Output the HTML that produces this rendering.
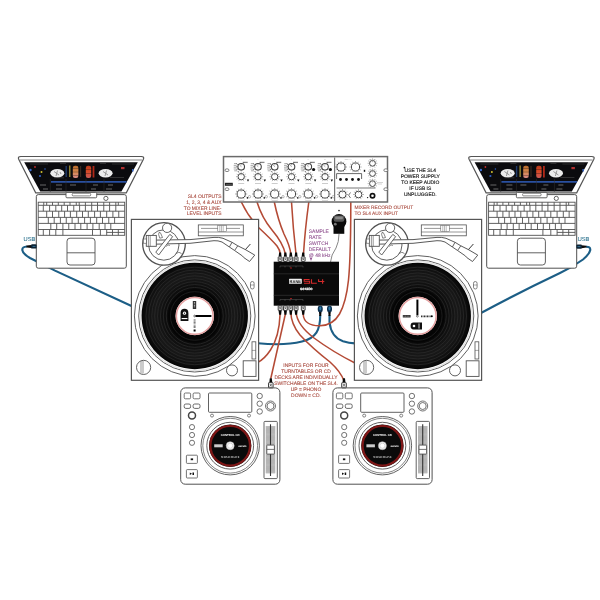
<!DOCTYPE html><html><head><meta charset="utf-8"><style>html,body{margin:0;padding:0;background:#fff;}svg{display:block;will-change:transform;text-rendering:geometricPrecision;}</style></head><body>
<svg width="600" height="600" viewBox="0 0 600 600">
<rect width="600" height="600" fill="#fff"/>
<defs>
<linearGradient id="wf1" x1="0" y1="0" x2="0" y2="1"><stop offset="0" stop-color="#b86a2a"/><stop offset="0.5" stop-color="#d88a50"/><stop offset="1" stop-color="#d88a88"/></linearGradient>
<linearGradient id="wf2" x1="0" y1="0" x2="0" y2="1"><stop offset="0" stop-color="#b83a1a"/><stop offset="0.5" stop-color="#d84a28"/><stop offset="1" stop-color="#c85a58"/></linearGradient>
<radialGradient id="rec" cx="0.5" cy="0.5" r="0.5"><stop offset="0.5" stop-color="#0a0a0a"/><stop offset="0.75" stop-color="#191919"/><stop offset="0.9" stop-color="#101010"/><stop offset="1" stop-color="#050505"/></radialGradient>
<g id="lap"><path d="M20.8,156.5 L141.3,156.5 Q144.6,156.5 143.4,159.3 L126.3,192.8 L35.7,192.8 L18.7,159.3 Q17.5,156.5 20.8,156.5 Z" fill="#fff" stroke="#555" stroke-width="1.2"/>
<path d="M19.6,160 L142.2,160" fill="none" stroke="#777" stroke-width="0.9"/>
<path d="M24.2,162.3 L137.8,162.3 L121.4,191.4 L40.2,191.4 Z" fill="#0b0b0e"/>
<ellipse cx="57.3" cy="173.2" rx="7" ry="4.2" fill="#ececec"/>
<ellipse cx="105.6" cy="173.2" rx="7" ry="4.2" fill="#ececec"/>
<path d="M54,171.5 L59,175 M57.5,170.5 L56,176 M60,172 L61,174" stroke="#777" stroke-width="0.7"/>
<path d="M103,171.5 L108,175 M106.5,170.5 L105,176" stroke="#777" stroke-width="0.7"/>
<rect x="65.5" y="166" width="1.4" height="11" fill="#1e3a6a"/>
<rect x="69" y="165.5" width="1.5" height="11.5" fill="#8a8030"/>
<rect x="72.8" y="165.8" width="5.6" height="12.2" rx="2.2" fill="url(#wf1)"/>
<rect x="80" y="166" width="1.2" height="11" fill="#3a2a20"/>
<rect x="85.8" y="165.8" width="5.4" height="12.2" rx="2.2" fill="url(#wf2)"/>
<rect x="92.6" y="166" width="1.8" height="11.5" fill="#b02818"/>
<path d="M72,168.5 L79,168.5 M72,172 L79,172 M72,175.5 L79,175.5 M85,169.5 L92,169.5 M85,173.5 L92,173.5" stroke="#0b0b0e" stroke-width="0.5" opacity="0.6"/>
<path d="M51,181.8 L126.5,181.8" stroke="#2a50a0" stroke-width="1.8"/>
<circle cx="30.5" cy="170" r="1.2" fill="#3a6ad0"/><circle cx="41.5" cy="172" r="1" fill="#d0c030"/><circle cx="35" cy="167" r="0.9" fill="#c03030"/><circle cx="40" cy="176" r="1.1" fill="#3060c0"/><circle cx="45" cy="169" r="0.8" fill="#3060c0"/>
<rect x="121" y="167" width="3.5" height="2.2" fill="#b03030"/><rect x="132" y="169" width="1.5" height="2.5" fill="#3060c0"/>
<path d="M30,164 L48,164 M60,163.5 L66,163.5 M100,163.5 L106,163.5 M112,164 L134,164" stroke="#444" stroke-width="0.6"/>
<path d="M50.3,179 L50.3,192 M66,179 L66,192 M86,179 L86,192 M104,179 L104,192" stroke="#333" stroke-width="0.5"/>
<path d="M40,185 L46,185 M56,185 L62,185 M70,185 L76,185 M93,185 L98,185 M108,185 L113,185 M43,189 L48,189 M56,189 L62,189 M91,189 L96,189 M106,189 L112,189" stroke="#aaa" stroke-width="0.6"/>
<path d="M110,177.5 L124,177.5 M54,177.8 L64,177.8" stroke="#555" stroke-width="0.5"/>
<rect x="36.3" y="194.6" width="90" height="73.6" rx="2" fill="#fff" stroke="#505050" stroke-width="1"/>
<rect x="66" y="192.4" width="30.7" height="5.4" rx="1" fill="#fff" stroke="#505050" stroke-width="0.9"/>
<rect x="72.2" y="193.3" width="18.5" height="2.6" rx="1" fill="#fff" stroke="#505050" stroke-width="0.7"/>
<circle cx="105.9" cy="198.4" r="2.1" fill="#fff" stroke="#505050" stroke-width="0.9"/>
<rect x="38.2" y="202.2" width="86.5" height="33.1" fill="#fff" stroke="#505050" stroke-width="0.9"/>
<path d="M38.2,205.3 L124.7,205.3 M38.2,211.2 L124.7,211.2 M38.2,217.4 L124.7,217.4 M38.2,223.4 L124.7,223.4 M38.2,229.5 L124.7,229.5 M43.75,202.2 L43.75,205.3 M46.7,202.2 L46.7,205.3 M52.5,202.2 L52.5,205.3 M58.3,202.2 L58.3,205.3 M64.2,202.2 L64.2,205.3 M70,202.2 L70,205.3 M76.25,202.2 L76.25,205.3 M79.2,202.2 L79.2,205.3 M85.4,202.2 L85.4,205.3 M91.7,202.2 L91.7,205.3 M97.5,202.2 L97.5,205.3 M103.75,202.2 L103.75,205.3 M109.6,202.2 L109.6,205.3 M115.8,202.2 L115.8,205.3 M118.3,202.2 L118.3,205.3 M43.3,205.3 L43.3,211.2 M49.6,205.3 L49.6,211.2 M55.8,205.3 L55.8,211.2 M61.7,205.3 L61.7,211.2 M67.5,205.3 L67.5,211.2 M73.75,205.3 L73.75,211.2 M79.6,205.3 L79.6,211.2 M85.4,205.3 L85.4,211.2 M91.7,205.3 L91.7,211.2 M97.5,205.3 L97.5,211.2 M103.75,205.3 L103.75,211.2 M109.6,205.3 L109.6,211.2 M115.8,205.3 L115.8,211.2 M46.7,211.2 L46.7,217.4 M52.5,211.2 L52.5,217.4 M58.75,211.2 L58.75,217.4 M64.6,211.2 L64.6,217.4 M70.4,211.2 L70.4,217.4 M76.7,211.2 L76.7,217.4 M82.5,211.2 L82.5,217.4 M88.3,211.2 L88.3,217.4 M94.6,211.2 L94.6,217.4 M100.4,211.2 L100.4,217.4 M106.7,211.2 L106.7,217.4 M112.9,211.2 L112.9,217.4 M118.75,211.2 L118.75,217.4 M48.3,217.4 L48.3,223.4 M54.2,217.4 L54.2,223.4 M60.4,217.4 L60.4,223.4 M66.25,217.4 L66.25,223.4 M72.1,217.4 L72.1,223.4 M78.3,217.4 L78.3,223.4 M84.6,217.4 L84.6,223.4 M90.4,217.4 L90.4,223.4 M96.7,217.4 L96.7,223.4 M102.5,217.4 L102.5,223.4 M108.75,217.4 L108.75,223.4 M114.6,217.4 L114.6,223.4 M50.8,223.4 L50.8,229.5 M56.7,223.4 L56.7,229.5 M62.9,223.4 L62.9,229.5 M68.75,223.4 L68.75,229.5 M75,223.4 L75,229.5 M80.8,223.4 L80.8,229.5 M87.1,223.4 L87.1,229.5 M92.9,223.4 L92.9,229.5 M99.2,223.4 L99.2,229.5 M105,223.4 L105,229.5 M110.8,223.4 L110.8,229.5 M43.3,229.5 L43.3,235.3 M49.6,229.5 L49.6,235.3 M55.8,229.5 L55.8,235.3 M62.9,229.5 L62.9,235.3 M92.5,229.5 L92.5,235.3 M100.4,229.5 L100.4,235.3 M106.7,229.5 L106.7,235.3 M112.5,229.5 L112.5,235.3 M118.3,229.5 L118.3,235.3 M106.7,232.4 L124.7,232.4" stroke="#505050" stroke-width="0.9" fill="none"/>
<rect x="67" y="238.2" width="28" height="26.8" rx="3" fill="#fff" stroke="#505050" stroke-width="0.9"/>
<path d="M67,252.8 L95,252.8" stroke="#505050" stroke-width="0.9"/></g>
<g id="tt"><rect x="131.4" y="219.4" width="127.2" height="160.9" fill="#fff" stroke="#555" stroke-width="1.2"/>
<circle cx="194.75" cy="315.95" r="60.35" fill="#fff" stroke="#606060" stroke-width="1.0"/>
<circle cx="194.75" cy="315.95" r="56.05" fill="#fff" stroke="#606060" stroke-width="1.0"/>
<circle cx="194.75" cy="315.95" r="54.4" fill="none" stroke="#e4e4e4" stroke-width="1.4"/>
<circle cx="194.75" cy="315.95" r="53.2" fill="url(#rec)"/>
<circle cx="194.75" cy="315.95" r="28.50" fill="none" stroke="#292929" stroke-width="0.8"/>
<circle cx="194.75" cy="315.95" r="31.40" fill="none" stroke="#292929" stroke-width="0.8"/>
<circle cx="194.75" cy="315.95" r="34.30" fill="none" stroke="#292929" stroke-width="0.8"/>
<circle cx="194.75" cy="315.95" r="37.20" fill="none" stroke="#292929" stroke-width="0.8"/>
<circle cx="194.75" cy="315.95" r="40.10" fill="none" stroke="#292929" stroke-width="0.8"/>
<circle cx="194.75" cy="315.95" r="43.00" fill="none" stroke="#292929" stroke-width="0.8"/>
<circle cx="194.75" cy="315.95" r="45.90" fill="none" stroke="#292929" stroke-width="0.8"/>
<circle cx="194.75" cy="315.95" r="48.80" fill="none" stroke="#292929" stroke-width="0.8"/>
<circle cx="194.75" cy="315.95" r="26.5" fill="#050505"/>
<circle cx="194.75" cy="315.95" r="24.3" fill="none" stroke="#222" stroke-width="0.8"/>
<circle cx="194.75" cy="315.95" r="19.2" fill="#fff"/>
<circle cx="194.75" cy="315.95" r="18.4" fill="none" stroke="#e4a0a0" stroke-width="1.5"/>
<circle cx="164" cy="243.9" r="21.3" fill="#fff" stroke="#505050" stroke-width="1.3"/>
<circle cx="163.8" cy="245" r="15.2" fill="#fff" stroke="#505050" stroke-width="0.9"/>
<circle cx="167.1" cy="227.9" r="4.6" fill="#fff" stroke="#505050" stroke-width="0.9"/>
<path d="M176,253.5 Q179,251 181.5,253.5" fill="none" stroke="#505050" stroke-width="0.7"/>
<path d="M159,232.5 Q160.5,232 161,234 L162.5,237.5 L159.8,238.2 L158.6,234.5 Z" fill="#fff" stroke="#505050" stroke-width="0.7"/>
<path d="M150,240.2 L190,239.6 L214,237.4 Q219,237 223,238.3 L232,242.3 L237.8,245.8 L245.4,249.6 L254.75,255.1 L249.5,261.5 L243.7,257.5 L242.5,256 L234.6,250.5 L229.4,247 L222,242 Q218,240.4 214,240.7 L190,243.3 L150,244.3 Z" fill="#fff" stroke="#505050" stroke-width="0.95" stroke-linejoin="round"/>
<path d="M232,242.3 L229.4,247 M237.8,245.8 L234.6,250.5" stroke="#505050" stroke-width="0.9"/>
<path d="M245.4,249.6 L250.4,244" stroke="#222" stroke-width="0.9"/>
<rect x="146.3" y="235.4" width="10" height="10.9" fill="#fff" stroke="#505050" stroke-width="0.9"/>
<path d="M148.4,235.4 L148.4,246.3 M150.2,235.4 L150.2,246.3" stroke="#505050" stroke-width="0.6"/>
<rect x="143.5" y="239" width="2.8" height="4.2" fill="#fff" stroke="#505050" stroke-width="0.6"/>
<path d="M155.8,252.1 L169.8,234.4 L172.6,236.6 L158.7,255 Z" fill="#fff" stroke="#505050" stroke-width="0.9"/>
<path d="M166,246.5 Q168,244 170,245.5" fill="none" stroke="#505050" stroke-width="0.6"/>
<rect x="198.3" y="224.9" width="45" height="10.9" fill="#fff" stroke="#505050" stroke-width="0.8"/>
<path d="M198.3,232 L243.3,232 M201,228.4 L240,228.4" stroke="#505050" stroke-width="0.6"/>
<rect x="217.8" y="225.5" width="8.5" height="6.2" fill="#fff" stroke="#505050" stroke-width="0.5"/>
<path d="M219.8,225.5 L219.8,231.7 M221.5,225.5 L221.5,231.7 M223.2,225.5 L223.2,231.7" stroke="#777" stroke-width="0.5"/>
<rect x="250.5" y="281.5" width="3.6" height="7.5" rx="1.8" fill="#fff" stroke="#505050" stroke-width="0.7"/>
<path d="M250.5,285 L254.1,285" stroke="#505050" stroke-width="0.5"/>
<rect x="252" y="341.8" width="3.8" height="17.2" fill="#fff" stroke="#505050" stroke-width="0.8"/>
<path d="M252,350.4 L255.8,350.4" stroke="#505050" stroke-width="0.5"/>
<rect x="243.2" y="360.8" width="12.8" height="15.6" fill="#fff" stroke="#505050" stroke-width="0.9"/>
<circle cx="232" cy="370.4" r="5.5" fill="#fff" stroke="#505050" stroke-width="0.9"/>
<circle cx="143.6" cy="367.4" r="7.1" fill="#fff" stroke="#505050" stroke-width="0.9"/>
<path d="M141,361 L141,373 M143,360.5 L143,373.5" stroke="#505050" stroke-width="0.6"/></g>
<g id="cd"><rect x="180.7" y="387.9" width="99.2" height="96.3" rx="4.5" fill="#fff" stroke="#505050" stroke-width="1"/>
<rect x="184.2" y="393" width="6.4" height="5.8" rx="1.2" fill="#fff" stroke="#505050" stroke-width="0.8"/>
<rect x="193.1" y="393" width="6.9" height="5.8" rx="1.2" fill="#fff" stroke="#505050" stroke-width="0.8"/>
<rect x="184.2" y="404" width="6.4" height="4.4" rx="1.6" fill="#fff" stroke="#505050" stroke-width="0.85"/>
<rect x="193.1" y="404" width="6.9" height="4.4" rx="1.6" fill="#fff" stroke="#505050" stroke-width="0.85"/>
<circle cx="192" cy="415.6" r="3.5" fill="#fff" stroke="#444" stroke-width="1.5"/>
<circle cx="192" cy="427.1" r="2.6" fill="#fff" stroke="#505050" stroke-width="0.8"/>
<circle cx="192" cy="435.0" r="2.6" fill="#fff" stroke="#505050" stroke-width="0.8"/>
<circle cx="192" cy="442.8" r="2.6" fill="#fff" stroke="#505050" stroke-width="0.8"/>
<rect x="186.4" y="455.2" width="11" height="8.2" rx="0.8" fill="#fff" stroke="#505050" stroke-width="0.8"/>
<rect x="190.7" y="458.4" width="2.4" height="1.8" fill="#111"/>
<rect x="186.4" y="469.6" width="11" height="8.4" rx="0.8" fill="#fff" stroke="#505050" stroke-width="0.8"/>
<path d="M189.8,472.6 L192,473.8 L189.8,475 Z M192.5,472.6 L194,472.6 L194,475 L192.5,475 Z" fill="#111"/>
<rect x="208.5" y="393" width="43.3" height="19.3" rx="1" fill="#fff" stroke="#505050" stroke-width="0.9"/>
<circle cx="212" cy="415.6" r="1.5" fill="#fff" stroke="#505050" stroke-width="0.7"/>
<circle cx="249" cy="415.6" r="1.5" fill="#fff" stroke="#505050" stroke-width="0.7"/>
<circle cx="259.7" cy="396" r="2.7" fill="#fff" stroke="#505050" stroke-width="0.8"/>
<circle cx="259.7" cy="403.7" r="2.7" fill="#fff" stroke="#505050" stroke-width="0.8"/>
<circle cx="259.7" cy="411.5" r="2.7" fill="#fff" stroke="#505050" stroke-width="0.8"/>
<circle cx="270.5" cy="406" r="5" fill="#fff" stroke="#505050" stroke-width="0.8"/>
<circle cx="270.5" cy="406" r="3.5" fill="#fff" stroke="#505050" stroke-width="0.8"/>
<circle cx="230.2" cy="445.7" r="29.2" fill="#fff" stroke="#505050" stroke-width="0.9"/>
<circle cx="230.2" cy="445.7" r="27.4" fill="#fff" stroke="#505050" stroke-width="0.7"/>
<circle cx="230.2" cy="445.7" r="23.4" fill="#fff" stroke="#505050" stroke-width="0.9"/>
<circle cx="230.2" cy="445.7" r="21.2" fill="#0a0a0a"/>
<circle cx="230.2" cy="445.7" r="19.85" fill="none" stroke="#7f1717" stroke-width="2.3"/>
<circle cx="230.2" cy="445.7" r="4" fill="#fff" stroke="#aaa" stroke-width="0.6"/>
<circle cx="230.2" cy="445.7" r="2.6" fill="#fff" stroke="#999" stroke-width="0.4"/>
<text x="230.2" y="436.09999999999997" font-family="Liberation Sans" font-weight="bold" font-size="2.8" fill="#fff" text-anchor="middle" textLength="19" lengthAdjust="spacingAndGlyphs">CONTROL CD</text>
<rect x="214.2" y="444.3" width="8.5" height="3" fill="#ccc"/>
<text x="242.39999999999998" y="447.0" font-family="Liberation Sans" font-weight="bold" font-size="2.8" fill="#fff" text-anchor="middle">serato</text>
<text x="230.2" y="457.9" font-family="Liberation Serif" font-weight="bold" font-size="3.2" fill="#ddd" text-anchor="middle" textLength="18.5" lengthAdjust="spacingAndGlyphs">SCRATCH LIVE</text>
<rect x="264" y="421.4" width="13.3" height="57.2" rx="1" fill="#fff" stroke="#505050" stroke-width="0.9"/>
<rect x="265.8" y="426" width="9.4" height="47.3" fill="#a0a0a0"/>
<path d="M265.8,426.50 L275.2,426.50 M265.8,427.65 L275.2,427.65 M265.8,428.80 L275.2,428.80 M265.8,429.95 L275.2,429.95 M265.8,431.10 L275.2,431.10 M265.8,432.25 L275.2,432.25 M265.8,433.40 L275.2,433.40 M265.8,434.55 L275.2,434.55 M265.8,435.70 L275.2,435.70 M265.8,436.85 L275.2,436.85 M265.8,438.00 L275.2,438.00 M265.8,439.15 L275.2,439.15 M265.8,440.30 L275.2,440.30 M265.8,441.45 L275.2,441.45 M265.8,442.60 L275.2,442.60 M265.8,443.75 L275.2,443.75 M265.8,444.90 L275.2,444.90 M265.8,446.05 L275.2,446.05 M265.8,447.20 L275.2,447.20 M265.8,448.35 L275.2,448.35 M265.8,449.50 L275.2,449.50 M265.8,450.65 L275.2,450.65 M265.8,451.80 L275.2,451.80 M265.8,452.95 L275.2,452.95 M265.8,454.10 L275.2,454.10 M265.8,455.25 L275.2,455.25 M265.8,456.40 L275.2,456.40 M265.8,457.55 L275.2,457.55 M265.8,458.70 L275.2,458.70 M265.8,459.85 L275.2,459.85 M265.8,461.00 L275.2,461.00 M265.8,462.15 L275.2,462.15 M265.8,463.30 L275.2,463.30 M265.8,464.45 L275.2,464.45 M265.8,465.60 L275.2,465.60 M265.8,466.75 L275.2,466.75 M265.8,467.90 L275.2,467.90 M265.8,469.05 L275.2,469.05 M265.8,470.20 L275.2,470.20 M265.8,471.35 L275.2,471.35 M265.8,472.50 L275.2,472.50" stroke="#d4d4d4" stroke-width="0.5"/>
<path d="M270.5,424.3 L270.5,476" stroke="#333" stroke-width="1.1"/>
<rect x="266.8" y="445.1" width="7.6" height="9" rx="0.5" fill="#fff" stroke="#505050" stroke-width="0.9"/>
<path d="M266.8,449.4 L274.4,449.4" stroke="#505050" stroke-width="0.8"/></g>
</defs>
<path d="M27,246.5 Q22,246.8 22.3,250 Q22.8,254 30,258 Q40,263 55,270.6 L131.5,306" fill="none" stroke="#1c5e86" stroke-width="2.1"/>
<path d="M586,246.7 Q590.5,246.5 590.3,250 Q589.5,254 583,259.5 Q572,267.5 560,273 Q520,292 481,313" fill="none" stroke="#1c5e86" stroke-width="2.1"/>
<path d="M320.25,315 C320.3,330 316,338 302,341.5 C290,344.5 275,345 258,343.2" fill="none" stroke="#1c5e86" stroke-width="2.1"/>
<path d="M329.5,315 L329.5,322 Q331,337 343,341.2 Q349,343 355,343.4" fill="none" stroke="#1c5e86" stroke-width="2.1"/>
<path d="M241.3,202 Q248,216 258,227 Q272,240 277,246 Q280,250 280.3,254" fill="none" stroke="#b44a35" stroke-width="1.55"/>
<path d="M257,202 Q262,218 272,230 Q283,243 285.4,254" fill="none" stroke="#b44a35" stroke-width="1.55"/>
<path d="M274.3,202 Q278,220 284,234 Q290,246 290.8,254" fill="none" stroke="#b44a35" stroke-width="1.55"/>
<path d="M291.5,202 Q293,228 296,254" fill="none" stroke="#b44a35" stroke-width="1.55"/>
<path d="M308.8,202 Q305,230 303.5,254" fill="none" stroke="#b44a35" stroke-width="1.55"/>
<path d="M280.1,314 C279.5,330 276.5,341 270.5,350 C266.5,356 262.5,360 258,362.2" fill="none" stroke="#b44a35" stroke-width="1.55"/>
<path d="M285.4,314 L270.8,378.5" fill="none" stroke="#b44a35" stroke-width="1.55"/>
<path d="M290.8,312 Q291,324 300,335 Q312,348 330,362 Q341,372 344,381" fill="none" stroke="#b44a35" stroke-width="1.55"/>
<path d="M296,312 Q297,325 314,338 Q333,352 355,363" fill="none" stroke="#b44a35" stroke-width="1.55"/>
<path d="M303.2,314 C303.5,322 310,326 320,325.8 C330,325.5 336,320 339.5,314 C344,306 346.8,296 348.5,280 C350,265 350.8,240 350.8,202" fill="none" stroke="#b44a35" stroke-width="1.55"/>
<path d="M339,234 Q339,242 336,248 Q331,255 330.5,262" fill="none" stroke="#888" stroke-width="1"/>
<use href="#lap"/>
<use href="#lap" transform="translate(450.4,0)"/>
<use href="#tt"/>
<use href="#tt" transform="translate(223,0)"/>
<path d="M195.4,316.0 L211.4,316.0" stroke="#000" stroke-width="2"/>
<circle cx="194.6" cy="316.0" r="0.9" fill="#fff" stroke="#000" stroke-width="0.5"/>
<path d="M180.6,321 L180.6,313 Q180.6,308.8 184.5,308.8 Q188.4,308.8 188.4,313 L188.4,321 Z" fill="#111"/>
<circle cx="184.5" cy="313.2" r="1.6" fill="#fff"/>
<circle cx="184.5" cy="313.2" r="0.6" fill="#111"/>
<rect x="181.6" y="318" width="5.8" height="1.1" fill="#fff"/>
<rect x="192.8" y="301" width="3.4" height="8" fill="#333"/>
<path d="M194.5,302 L194.5,308" stroke="#ccc" stroke-width="1.2" stroke-dasharray="0.8,0.7"/>
<path d="M194.6,319.5 L194.6,328.5" stroke="#555" stroke-width="2" stroke-dasharray="0.7,0.6"/>
<rect x="193.6" y="329.5" width="2" height="2" fill="#000"/>
<path d="M417.4,315.2 L417.4,299.59999999999997" stroke="#000" stroke-width="2"/>
<circle cx="417.4" cy="316.2" r="0.9" fill="#fff" stroke="#000" stroke-width="0.5"/>
<path d="M413.5,322.6 L422,322.6 L422,329.4 L413.5,329.4 Q410.6,329.4 410.6,326 Q410.6,322.6 413.5,322.6 Z" fill="#111"/>
<circle cx="414" cy="326" r="1.3" fill="#fff"/>
<rect x="418.6" y="323.4" width="0.8" height="5.2" fill="#fff"/>
<rect x="402.8" y="315" width="7.8" height="2.5" fill="#333"/>
<path d="M403.5,316.2 L410,316.2" stroke="#fff" stroke-width="0.4" stroke-dasharray="1,0.6"/>
<path d="M421,316.3 L430.6,316.3" stroke="#333" stroke-width="1.7" stroke-dasharray="1,0.5"/>
<circle cx="431.8" cy="316.3" r="1" fill="#000"/>
<use href="#cd"/>
<use href="#cd" transform="translate(152.2,0)"/>
<rect x="223.5" y="156.6" width="164" height="45.4" fill="#fff" stroke="#6a6a6a" stroke-width="1.5"/>
<path d="M234.0,163.6 L237.0,163.6 M233.7,165.4 L236.6,165.4 M233.7,167.2 L236.39999999999998,167.2 M233.7,169 L236.6,169 M234.2,170.8 L237.2,170.8" stroke="#909090" stroke-width="0.75"/>
<path d="M242.7,162.4 L247.7,162.4" stroke="#888" stroke-width="1.3"/>
<circle cx="241.2" cy="166.8" r="3.3" fill="#fff" stroke="#444" stroke-width="1.1"/>
<path d="M241.2,164.0 L241.2,165.3" stroke="#666" stroke-width="0.5"/>
<path d="M236.6,163.8 L237.6,164.5 M236.29999999999998,166.8 L237.39999999999998,166.8 M236.6,169.6 L237.6,169 M238.0,171.8 L238.7,170.9 M243.79999999999998,162.6 L243.29999999999998,163.4" stroke="#222" stroke-width="0.8"/>
<path d="M241.5,166.8 L239.7,165.2" stroke="#555" stroke-width="0.5"/>
<text x="241.2" y="160.3" font-family="Liberation Sans" font-size="1.6" fill="#888" text-anchor="middle">1</text>
<path d="M239.15,180.25 L238.65,181.12 M237.65,178.75 L236.78,179.25 M237.10,176.70 L236.10,176.70 M237.65,174.65 L236.78,174.15 M239.15,173.15 L238.65,172.28 M241.20,172.60 L241.20,171.60 M243.25,173.15 L243.75,172.28 M244.75,174.65 L245.62,174.15 M245.30,176.70 L246.30,176.70 M244.75,178.75 L245.62,179.25 M243.25,180.25 L243.75,181.12" stroke="#707070" stroke-width="0.65"/>
<circle cx="241.2" cy="176.7" r="3.2" fill="#fff" stroke="#444" stroke-width="1.0"/>
<path d="M241.2,174.0 L241.2,175.3" stroke="#666" stroke-width="0.5"/>
<path d="M246.79999999999998,179.4 L249.2,179.4 L248.0,181.8 Z" fill="#111"/>
<path d="M238.2,183.5 L244.2,183.5" stroke="#aaa" stroke-width="0.6"/>
<path d="M238.70,198.33 L238.20,199.20 M236.87,196.50 L236.00,197.00 M236.20,194.00 L235.20,194.00 M236.87,191.50 L236.00,191.00 M238.70,189.67 L238.20,188.80 M241.20,189.00 L241.20,188.00 M243.70,189.67 L244.20,188.80 M245.53,191.50 L246.40,191.00 M246.20,194.00 L247.20,194.00 M245.53,196.50 L246.40,197.00 M243.70,198.33 L244.20,199.20" stroke="#707070" stroke-width="0.65"/>
<circle cx="241.2" cy="194.0" r="4.1" fill="#fff" stroke="#444" stroke-width="1.0"/>
<path d="M241.2,190.4 L241.2,191.70000000000002" stroke="#666" stroke-width="0.5"/>
<circle cx="247.5" cy="197.9" r="0.8" fill="#111"/>
<circle cx="249.5" cy="196.7" r="1.2" fill="#fff" stroke="#888" stroke-width="0.6"/>
<path d="M238.2,200.6 L244.2,200.6" stroke="#bbb" stroke-width="0.6"/>
<path d="M250.8,163.6 L253.8,163.6 M250.5,165.4 L253.4,165.4 M250.5,167.2 L253.2,167.2 M250.5,169 L253.4,169 M251.0,170.8 L254.0,170.8" stroke="#909090" stroke-width="0.75"/>
<path d="M259.5,162.4 L264.5,162.4" stroke="#888" stroke-width="1.3"/>
<circle cx="258.0" cy="166.8" r="3.3" fill="#fff" stroke="#444" stroke-width="1.1"/>
<path d="M258.0,164.0 L258.0,165.3" stroke="#666" stroke-width="0.5"/>
<path d="M253.4,163.8 L254.4,164.5 M253.1,166.8 L254.2,166.8 M253.4,169.6 L254.4,169 M254.8,171.8 L255.5,170.9 M260.6,162.6 L260.1,163.4" stroke="#222" stroke-width="0.8"/>
<path d="M258.3,166.8 L256.5,165.2" stroke="#555" stroke-width="0.5"/>
<text x="258.0" y="160.3" font-family="Liberation Sans" font-size="1.6" fill="#888" text-anchor="middle">2</text>
<path d="M255.95,180.25 L255.45,181.12 M254.45,178.75 L253.58,179.25 M253.90,176.70 L252.90,176.70 M254.45,174.65 L253.58,174.15 M255.95,173.15 L255.45,172.28 M258.00,172.60 L258.00,171.60 M260.05,173.15 L260.55,172.28 M261.55,174.65 L262.42,174.15 M262.10,176.70 L263.10,176.70 M261.55,178.75 L262.42,179.25 M260.05,180.25 L260.55,181.12" stroke="#707070" stroke-width="0.65"/>
<circle cx="258.0" cy="176.7" r="3.2" fill="#fff" stroke="#444" stroke-width="1.0"/>
<path d="M258.0,174.0 L258.0,175.3" stroke="#666" stroke-width="0.5"/>
<path d="M263.6,179.4 L266.0,179.4 L264.8,181.8 Z" fill="#111"/>
<path d="M255.0,183.5 L261.0,183.5" stroke="#aaa" stroke-width="0.6"/>
<path d="M255.50,198.33 L255.00,199.20 M253.67,196.50 L252.80,197.00 M253.00,194.00 L252.00,194.00 M253.67,191.50 L252.80,191.00 M255.50,189.67 L255.00,188.80 M258.00,189.00 L258.00,188.00 M260.50,189.67 L261.00,188.80 M262.33,191.50 L263.20,191.00 M263.00,194.00 L264.00,194.00 M262.33,196.50 L263.20,197.00 M260.50,198.33 L261.00,199.20" stroke="#707070" stroke-width="0.65"/>
<circle cx="258.0" cy="194.0" r="4.1" fill="#fff" stroke="#444" stroke-width="1.0"/>
<path d="M258.0,190.4 L258.0,191.70000000000002" stroke="#666" stroke-width="0.5"/>
<circle cx="264.3" cy="197.9" r="0.8" fill="#111"/>
<circle cx="266.3" cy="196.7" r="1.2" fill="#fff" stroke="#888" stroke-width="0.6"/>
<path d="M255.0,200.6 L261.0,200.6" stroke="#bbb" stroke-width="0.6"/>
<path d="M267.5,163.6 L270.5,163.6 M267.2,165.4 L270.09999999999997,165.4 M267.2,167.2 L269.9,167.2 M267.2,169 L270.09999999999997,169 M267.7,170.8 L270.7,170.8" stroke="#909090" stroke-width="0.75"/>
<path d="M276.2,162.4 L281.2,162.4" stroke="#888" stroke-width="1.3"/>
<circle cx="274.7" cy="166.8" r="3.3" fill="#fff" stroke="#444" stroke-width="1.1"/>
<path d="M274.7,164.0 L274.7,165.3" stroke="#666" stroke-width="0.5"/>
<path d="M270.09999999999997,163.8 L271.09999999999997,164.5 M269.8,166.8 L270.9,166.8 M270.09999999999997,169.6 L271.09999999999997,169 M271.5,171.8 L272.2,170.9 M277.3,162.6 L276.8,163.4" stroke="#222" stroke-width="0.8"/>
<path d="M275.0,166.8 L273.2,165.2" stroke="#555" stroke-width="0.5"/>
<text x="274.7" y="160.3" font-family="Liberation Sans" font-size="1.6" fill="#888" text-anchor="middle">3</text>
<path d="M272.65,180.25 L272.15,181.12 M271.15,178.75 L270.28,179.25 M270.60,176.70 L269.60,176.70 M271.15,174.65 L270.28,174.15 M272.65,173.15 L272.15,172.28 M274.70,172.60 L274.70,171.60 M276.75,173.15 L277.25,172.28 M278.25,174.65 L279.12,174.15 M278.80,176.70 L279.80,176.70 M278.25,178.75 L279.12,179.25 M276.75,180.25 L277.25,181.12" stroke="#707070" stroke-width="0.65"/>
<circle cx="274.7" cy="176.7" r="3.2" fill="#fff" stroke="#444" stroke-width="1.0"/>
<path d="M274.7,174.0 L274.7,175.3" stroke="#666" stroke-width="0.5"/>
<path d="M280.3,179.4 L282.7,179.4 L281.5,181.8 Z" fill="#111"/>
<path d="M271.7,183.5 L277.7,183.5" stroke="#aaa" stroke-width="0.6"/>
<path d="M272.20,198.33 L271.70,199.20 M270.37,196.50 L269.50,197.00 M269.70,194.00 L268.70,194.00 M270.37,191.50 L269.50,191.00 M272.20,189.67 L271.70,188.80 M274.70,189.00 L274.70,188.00 M277.20,189.67 L277.70,188.80 M279.03,191.50 L279.90,191.00 M279.70,194.00 L280.70,194.00 M279.03,196.50 L279.90,197.00 M277.20,198.33 L277.70,199.20" stroke="#707070" stroke-width="0.65"/>
<circle cx="274.7" cy="194.0" r="4.1" fill="#fff" stroke="#444" stroke-width="1.0"/>
<path d="M274.7,190.4 L274.7,191.70000000000002" stroke="#666" stroke-width="0.5"/>
<circle cx="281.0" cy="197.9" r="0.8" fill="#111"/>
<circle cx="283.0" cy="196.7" r="1.2" fill="#fff" stroke="#888" stroke-width="0.6"/>
<path d="M271.7,200.6 L277.7,200.6" stroke="#bbb" stroke-width="0.6"/>
<path d="M284.3,163.6 L287.3,163.6 M284.0,165.4 L286.9,165.4 M284.0,167.2 L286.7,167.2 M284.0,169 L286.9,169 M284.5,170.8 L287.5,170.8" stroke="#909090" stroke-width="0.75"/>
<path d="M293.0,162.4 L298.0,162.4" stroke="#888" stroke-width="1.3"/>
<circle cx="291.5" cy="166.8" r="3.3" fill="#fff" stroke="#444" stroke-width="1.1"/>
<path d="M291.5,164.0 L291.5,165.3" stroke="#666" stroke-width="0.5"/>
<path d="M286.9,163.8 L287.9,164.5 M286.6,166.8 L287.7,166.8 M286.9,169.6 L287.9,169 M288.3,171.8 L289.0,170.9 M294.1,162.6 L293.6,163.4" stroke="#222" stroke-width="0.8"/>
<path d="M291.8,166.8 L290.0,165.2" stroke="#555" stroke-width="0.5"/>
<text x="291.5" y="160.3" font-family="Liberation Sans" font-size="1.6" fill="#888" text-anchor="middle">4</text>
<path d="M289.45,180.25 L288.95,181.12 M287.95,178.75 L287.08,179.25 M287.40,176.70 L286.40,176.70 M287.95,174.65 L287.08,174.15 M289.45,173.15 L288.95,172.28 M291.50,172.60 L291.50,171.60 M293.55,173.15 L294.05,172.28 M295.05,174.65 L295.92,174.15 M295.60,176.70 L296.60,176.70 M295.05,178.75 L295.92,179.25 M293.55,180.25 L294.05,181.12" stroke="#707070" stroke-width="0.65"/>
<circle cx="291.5" cy="176.7" r="3.2" fill="#fff" stroke="#444" stroke-width="1.0"/>
<path d="M291.5,174.0 L291.5,175.3" stroke="#666" stroke-width="0.5"/>
<path d="M297.1,179.4 L299.5,179.4 L298.3,181.8 Z" fill="#111"/>
<path d="M288.5,183.5 L294.5,183.5" stroke="#aaa" stroke-width="0.6"/>
<path d="M289.00,198.33 L288.50,199.20 M287.17,196.50 L286.30,197.00 M286.50,194.00 L285.50,194.00 M287.17,191.50 L286.30,191.00 M289.00,189.67 L288.50,188.80 M291.50,189.00 L291.50,188.00 M294.00,189.67 L294.50,188.80 M295.83,191.50 L296.70,191.00 M296.50,194.00 L297.50,194.00 M295.83,196.50 L296.70,197.00 M294.00,198.33 L294.50,199.20" stroke="#707070" stroke-width="0.65"/>
<circle cx="291.5" cy="194.0" r="4.1" fill="#fff" stroke="#444" stroke-width="1.0"/>
<path d="M291.5,190.4 L291.5,191.70000000000002" stroke="#666" stroke-width="0.5"/>
<circle cx="297.8" cy="197.9" r="0.8" fill="#111"/>
<circle cx="299.8" cy="196.7" r="1.2" fill="#fff" stroke="#888" stroke-width="0.6"/>
<path d="M288.5,200.6 L294.5,200.6" stroke="#bbb" stroke-width="0.6"/>
<path d="M301.1,163.6 L304.1,163.6 M300.8,165.4 L303.7,165.4 M300.8,167.2 L303.5,167.2 M300.8,169 L303.7,169 M301.3,170.8 L304.3,170.8" stroke="#909090" stroke-width="0.75"/>
<path d="M309.8,162.4 L314.8,162.4" stroke="#888" stroke-width="1.3"/>
<circle cx="308.3" cy="166.8" r="3.3" fill="#fff" stroke="#444" stroke-width="1.1"/>
<path d="M308.3,164.0 L308.3,165.3" stroke="#666" stroke-width="0.5"/>
<path d="M303.7,163.8 L304.7,164.5 M303.40000000000003,166.8 L304.5,166.8 M303.7,169.6 L304.7,169 M305.1,171.8 L305.8,170.9 M310.90000000000003,162.6 L310.40000000000003,163.4" stroke="#222" stroke-width="0.8"/>
<path d="M308.6,166.8 L306.8,165.2" stroke="#555" stroke-width="0.5"/>
<text x="308.3" y="160.3" font-family="Liberation Sans" font-size="1.6" fill="#888" text-anchor="middle">5</text>
<path d="M306.25,180.25 L305.75,181.12 M304.75,178.75 L303.88,179.25 M304.20,176.70 L303.20,176.70 M304.75,174.65 L303.88,174.15 M306.25,173.15 L305.75,172.28 M308.30,172.60 L308.30,171.60 M310.35,173.15 L310.85,172.28 M311.85,174.65 L312.72,174.15 M312.40,176.70 L313.40,176.70 M311.85,178.75 L312.72,179.25 M310.35,180.25 L310.85,181.12" stroke="#707070" stroke-width="0.65"/>
<circle cx="308.3" cy="176.7" r="3.2" fill="#fff" stroke="#444" stroke-width="1.0"/>
<path d="M308.3,174.0 L308.3,175.3" stroke="#666" stroke-width="0.5"/>
<path d="M313.90000000000003,179.4 L316.3,179.4 L315.1,181.8 Z" fill="#111"/>
<path d="M305.3,183.5 L311.3,183.5" stroke="#aaa" stroke-width="0.6"/>
<path d="M305.80,198.33 L305.30,199.20 M303.97,196.50 L303.10,197.00 M303.30,194.00 L302.30,194.00 M303.97,191.50 L303.10,191.00 M305.80,189.67 L305.30,188.80 M308.30,189.00 L308.30,188.00 M310.80,189.67 L311.30,188.80 M312.63,191.50 L313.50,191.00 M313.30,194.00 L314.30,194.00 M312.63,196.50 L313.50,197.00 M310.80,198.33 L311.30,199.20" stroke="#707070" stroke-width="0.65"/>
<circle cx="308.3" cy="194.0" r="4.1" fill="#fff" stroke="#444" stroke-width="1.0"/>
<path d="M308.3,190.4 L308.3,191.70000000000002" stroke="#666" stroke-width="0.5"/>
<circle cx="314.6" cy="197.9" r="0.8" fill="#111"/>
<circle cx="316.6" cy="196.7" r="1.2" fill="#fff" stroke="#888" stroke-width="0.6"/>
<path d="M305.3,200.6 L311.3,200.6" stroke="#bbb" stroke-width="0.6"/>
<path d="M317.8,163.6 L320.8,163.6 M317.5,165.4 L320.4,165.4 M317.5,167.2 L320.2,167.2 M317.5,169 L320.4,169 M318.0,170.8 L321.0,170.8" stroke="#909090" stroke-width="0.75"/>
<path d="M326.5,162.4 L331.5,162.4" stroke="#888" stroke-width="1.3"/>
<circle cx="325.0" cy="166.8" r="3.3" fill="#fff" stroke="#444" stroke-width="1.1"/>
<path d="M325.0,164.0 L325.0,165.3" stroke="#666" stroke-width="0.5"/>
<path d="M320.4,163.8 L321.4,164.5 M320.1,166.8 L321.2,166.8 M320.4,169.6 L321.4,169 M321.8,171.8 L322.5,170.9 M327.6,162.6 L327.1,163.4" stroke="#222" stroke-width="0.8"/>
<path d="M325.3,166.8 L323.5,165.2" stroke="#555" stroke-width="0.5"/>
<text x="325.0" y="160.3" font-family="Liberation Sans" font-size="1.6" fill="#888" text-anchor="middle">6</text>
<path d="M322.95,180.25 L322.45,181.12 M321.45,178.75 L320.58,179.25 M320.90,176.70 L319.90,176.70 M321.45,174.65 L320.58,174.15 M322.95,173.15 L322.45,172.28 M325.00,172.60 L325.00,171.60 M327.05,173.15 L327.55,172.28 M328.55,174.65 L329.42,174.15 M329.10,176.70 L330.10,176.70 M328.55,178.75 L329.42,179.25 M327.05,180.25 L327.55,181.12" stroke="#707070" stroke-width="0.65"/>
<circle cx="325.0" cy="176.7" r="3.2" fill="#fff" stroke="#444" stroke-width="1.0"/>
<path d="M325.0,174.0 L325.0,175.3" stroke="#666" stroke-width="0.5"/>
<path d="M330.6,179.4 L333.0,179.4 L331.8,181.8 Z" fill="#111"/>
<path d="M322.0,183.5 L328.0,183.5" stroke="#aaa" stroke-width="0.6"/>
<path d="M322.50,198.33 L322.00,199.20 M320.67,196.50 L319.80,197.00 M320.00,194.00 L319.00,194.00 M320.67,191.50 L319.80,191.00 M322.50,189.67 L322.00,188.80 M325.00,189.00 L325.00,188.00 M327.50,189.67 L328.00,188.80 M329.33,191.50 L330.20,191.00 M330.00,194.00 L331.00,194.00 M329.33,196.50 L330.20,197.00 M327.50,198.33 L328.00,199.20" stroke="#707070" stroke-width="0.65"/>
<circle cx="325.0" cy="194.0" r="4.1" fill="#fff" stroke="#444" stroke-width="1.0"/>
<path d="M325.0,190.4 L325.0,191.70000000000002" stroke="#666" stroke-width="0.5"/>
<circle cx="331.3" cy="197.9" r="0.8" fill="#111"/>
<circle cx="333.3" cy="196.7" r="1.2" fill="#fff" stroke="#888" stroke-width="0.6"/>
<path d="M322.0,200.6 L328.0,200.6" stroke="#bbb" stroke-width="0.6"/>
<circle cx="313.6" cy="169.5" r="1.6" fill="#111"/><circle cx="330.4" cy="169.5" r="1.6" fill="#111"/>
<ellipse cx="227" cy="170.2" rx="2" ry="1.4" fill="#fff" stroke="#505050" stroke-width="0.7"/>
<ellipse cx="227" cy="189.2" rx="2" ry="1.4" fill="#fff" stroke="#505050" stroke-width="0.7"/>
<rect x="224.9" y="182.8" width="7.9" height="3" fill="#222"/>
<path d="M226,184.5 L232,184.5" stroke="#ccc" stroke-width="0.4" stroke-dasharray="0.7,0.4"/>
<path d="M334.6,157.5 L334.6,201" stroke="#777" stroke-width="1.2"/>
<path d="M336.5,188 L375.5,188" stroke="#777" stroke-width="1.2"/>
<text x="348" y="159.8" font-family="Liberation Sans" font-size="1.6" fill="#999" text-anchor="middle">MASTER</text>
<path d="M338.50,171.33 L338.00,172.20 M336.67,169.50 L335.80,170.00 M336.00,167.00 L335.00,167.00 M336.67,164.50 L335.80,164.00 M338.50,162.67 L338.00,161.80 M341.00,162.00 L341.00,161.00 M343.50,162.67 L344.00,161.80 M345.33,164.50 L346.20,164.00 M346.00,167.00 L347.00,167.00 M345.33,169.50 L346.20,170.00 M343.50,171.33 L344.00,172.20" stroke="#707070" stroke-width="0.65"/>
<circle cx="341" cy="167" r="4.1" fill="#fff" stroke="#444" stroke-width="1.0"/>
<path d="M341,163.4 L341,164.70000000000002" stroke="#666" stroke-width="0.5"/>
<path d="M353.00,171.33 L352.50,172.20 M351.17,169.50 L350.30,170.00 M350.50,167.00 L349.50,167.00 M351.17,164.50 L350.30,164.00 M353.00,162.67 L352.50,161.80 M355.50,162.00 L355.50,161.00 M358.00,162.67 L358.50,161.80 M359.83,164.50 L360.70,164.00 M360.50,167.00 L361.50,167.00 M359.83,169.50 L360.70,170.00 M358.00,171.33 L358.50,172.20" stroke="#707070" stroke-width="0.65"/>
<circle cx="355.5" cy="167" r="4.1" fill="#fff" stroke="#444" stroke-width="1.0"/>
<path d="M355.5,163.4 L355.5,164.70000000000002" stroke="#666" stroke-width="0.5"/>
<rect x="363.8" y="169.8" width="1.4" height="2" fill="#111"/>
<path d="M336.6,179 L336.6,173.6 L361.6,173.6 L361.6,179" stroke="#444" stroke-width="0.8" fill="none"/>
<circle cx="340.5" cy="179.5" r="1.4" fill="#111"/>
<circle cx="346.5" cy="179.5" r="1.4" fill="#111"/>
<circle cx="352.5" cy="179.5" r="1.4" fill="#111"/>
<circle cx="358.5" cy="179.5" r="1.4" fill="#111"/>
<path d="M340.25,198.40 L339.75,199.26 M338.60,196.75 L337.74,197.25 M338.00,194.50 L337.00,194.50 M338.60,192.25 L337.74,191.75 M340.25,190.60 L339.75,189.74 M342.50,190.00 L342.50,189.00 M344.75,190.60 L345.25,189.74 M346.40,192.25 L347.26,191.75 M347.00,194.50 L348.00,194.50 M346.40,196.75 L347.26,197.25 M344.75,198.40 L345.25,199.26" stroke="#707070" stroke-width="0.65"/>
<circle cx="342.5" cy="194.5" r="3.6" fill="#fff" stroke="#444" stroke-width="1.0"/>
<path d="M342.5,191.4 L342.5,192.70000000000002" stroke="#666" stroke-width="0.5"/>
<path d="M350.5,192.5 L348.6,195.2 L350.5,198" stroke="#333" stroke-width="0.7" fill="none"/>
<path d="M356.35,198.22 L355.85,199.09 M354.78,196.65 L353.91,197.15 M354.20,194.50 L353.20,194.50 M354.78,192.35 L353.91,191.85 M356.35,190.78 L355.85,189.91 M358.50,190.20 L358.50,189.20 M360.65,190.78 L361.15,189.91 M362.22,192.35 L363.09,191.85 M362.80,194.50 L363.80,194.50 M362.22,196.65 L363.09,197.15 M360.65,198.22 L361.15,199.09" stroke="#707070" stroke-width="0.65"/>
<circle cx="358.5" cy="194.5" r="3.4" fill="#fff" stroke="#444" stroke-width="1.0"/>
<path d="M358.5,191.6 L358.5,192.9" stroke="#666" stroke-width="0.5"/>
<circle cx="372.5" cy="195.8" r="3" fill="#111"/><circle cx="372.5" cy="195.8" r="1.3" fill="#fff"/><circle cx="367.6" cy="197.6" r="0.7" fill="#111"/>
<path d="M370.60,166.59 L370.10,167.46 M369.21,165.20 L368.34,165.70 M368.70,163.30 L367.70,163.30 M369.21,161.40 L368.34,160.90 M370.60,160.01 L370.10,159.14 M372.50,159.50 L372.50,158.50 M374.40,160.01 L374.90,159.14 M375.79,161.40 L376.66,160.90 M376.30,163.30 L377.30,163.30 M375.79,165.20 L376.66,165.70 M374.40,166.59 L374.90,167.46" stroke="#707070" stroke-width="0.65"/>
<circle cx="372.5" cy="163.3" r="2.9" fill="#fff" stroke="#444" stroke-width="1.0"/>
<path d="M372.5,160.9 L372.5,162.20000000000002" stroke="#666" stroke-width="0.5"/>
<path d="M369,159.8 L375.5,159.8" stroke="#bbb" stroke-width="0.5"/>
<path d="M370.60,176.79 L370.10,177.66 M369.21,175.40 L368.34,175.90 M368.70,173.50 L367.70,173.50 M369.21,171.60 L368.34,171.10 M370.60,170.21 L370.10,169.34 M372.50,169.70 L372.50,168.70 M374.40,170.21 L374.90,169.34 M375.79,171.60 L376.66,171.10 M376.30,173.50 L377.30,173.50 M375.79,175.40 L376.66,175.90 M374.40,176.79 L374.90,177.66" stroke="#707070" stroke-width="0.65"/>
<circle cx="372.5" cy="173.5" r="2.9" fill="#fff" stroke="#444" stroke-width="1.0"/>
<path d="M372.5,171.1 L372.5,172.4" stroke="#666" stroke-width="0.5"/>
<path d="M369,170.0 L375.5,170.0" stroke="#bbb" stroke-width="0.5"/>
<path d="M370.60,186.89 L370.10,187.76 M369.21,185.50 L368.34,186.00 M368.70,183.60 L367.70,183.60 M369.21,181.70 L368.34,181.20 M370.60,180.31 L370.10,179.44 M372.50,179.80 L372.50,178.80 M374.40,180.31 L374.90,179.44 M375.79,181.70 L376.66,181.20 M376.30,183.60 L377.30,183.60 M375.79,185.50 L376.66,186.00 M374.40,186.89 L374.90,187.76" stroke="#707070" stroke-width="0.65"/>
<circle cx="372.5" cy="183.60000000000002" r="2.9" fill="#fff" stroke="#444" stroke-width="1.0"/>
<path d="M372.5,181.20000000000002 L372.5,182.50000000000003" stroke="#666" stroke-width="0.5"/>
<path d="M369,180.10000000000002 L375.5,180.10000000000002" stroke="#bbb" stroke-width="0.5"/>
<ellipse cx="385.8" cy="170.2" rx="2" ry="1.4" fill="#fff" stroke="#505050" stroke-width="0.7"/>
<ellipse cx="385.8" cy="189.2" rx="2" ry="1.4" fill="#fff" stroke="#505050" stroke-width="0.7"/>
<path d="M377,182.5 L383,182.5 M378,184 L382,184" stroke="#aaa" stroke-width="0.5"/>
<rect x="273.7" y="261.7" width="65.3" height="44" fill="#0a0a0a"/>
<path d="M273.7,273.8 L339,273.8 M273.7,295.3 L339,295.3" stroke="#3a3a3a" stroke-width="0.6"/>
<path d="M280,267.5 L280,266 L303,266 L303,267.5 M285,266 L285,267.5 M290,266 L290,267.5 M296,266 L296,267.5" stroke="#888" stroke-width="0.35" fill="none"/>
<rect x="290" y="267.6" width="2" height="0.8" fill="#c22"/>
<path d="M280,301 L280,299.5 L303,299.5 L303,301 M285,299.5 L285,301 M290,299.5 L290,301 M296,299.5 L296,301" stroke="#888" stroke-width="0.35" fill="none"/>
<rect x="290" y="298.3" width="2" height="0.8" fill="#c22"/>
<rect x="289" y="278.8" width="12.8" height="5" rx="0.6" fill="#f0f0f0"/>
<text x="295.3" y="282.9" font-family="Liberation Sans" font-weight="bold" font-size="4.2" fill="#111" text-anchor="middle" textLength="11.5" lengthAdjust="spacingAndGlyphs">RANE</text>
<path d="M309.6,279.5 L304.2,279.5 L304.2,281.3 L309.6,281.3 L309.6,283.2 L304,283.2 M311.5,279.2 L311.5,283.2 L316.8,283.2 M318.6,279.2 L318.6,281.5 L324.3,281.5 M322.6,279.2 L322.6,283.8" stroke="#d42a2a" stroke-width="1.1" fill="none"/>
<text x="306.3" y="289.6" font-family="Liberation Sans" font-weight="bold" font-size="4" fill="#fff" stroke="#fff" stroke-width="0.2" text-anchor="middle" textLength="12.5" lengthAdjust="spacingAndGlyphs">serato</text>
<path d="M279.1,252.6 L281.1,252.6 L281.6,256.6 L278.6,256.6 Z" fill="#080808"/>
<rect x="278.20000000000005" y="256.9" width="3.8" height="4.6" rx="0.5" fill="#f4f4f4" stroke="#2a2a2a" stroke-width="0.9"/>
<path d="M279.1,257.9 L281.1,260.5 M281.1,257.9 L279.1,260.5" stroke="#222" stroke-width="0.55"/>
<rect x="278.20000000000005" y="305.9" width="3.8" height="4.6" rx="0.5" fill="#f4f4f4" stroke="#2a2a2a" stroke-width="0.9"/>
<path d="M279.1,306.9 L281.1,309.5 M281.1,306.9 L279.1,309.5" stroke="#222" stroke-width="0.55"/>
<path d="M278.6,310.8 L281.6,310.8 L281.1,314.8 L279.1,314.8 Z" fill="#080808"/>
<path d="M284.4,252.6 L286.4,252.6 L286.9,256.6 L283.9,256.6 Z" fill="#080808"/>
<rect x="283.5" y="256.9" width="3.8" height="4.6" rx="0.5" fill="#f4f4f4" stroke="#2a2a2a" stroke-width="0.9"/>
<path d="M284.4,257.9 L286.4,260.5 M286.4,257.9 L284.4,260.5" stroke="#222" stroke-width="0.55"/>
<rect x="283.5" y="305.9" width="3.8" height="4.6" rx="0.5" fill="#f4f4f4" stroke="#2a2a2a" stroke-width="0.9"/>
<path d="M284.4,306.9 L286.4,309.5 M286.4,306.9 L284.4,309.5" stroke="#222" stroke-width="0.55"/>
<path d="M283.9,310.8 L286.9,310.8 L286.4,314.8 L284.4,314.8 Z" fill="#080808"/>
<path d="M289.8,252.6 L291.8,252.6 L292.3,256.6 L289.3,256.6 Z" fill="#080808"/>
<rect x="288.90000000000003" y="256.9" width="3.8" height="4.6" rx="0.5" fill="#f4f4f4" stroke="#2a2a2a" stroke-width="0.9"/>
<path d="M289.8,257.9 L291.8,260.5 M291.8,257.9 L289.8,260.5" stroke="#222" stroke-width="0.55"/>
<rect x="288.90000000000003" y="305.9" width="3.8" height="4.6" rx="0.5" fill="#f4f4f4" stroke="#2a2a2a" stroke-width="0.9"/>
<path d="M289.8,306.9 L291.8,309.5 M291.8,306.9 L289.8,309.5" stroke="#222" stroke-width="0.55"/>
<path d="M289.3,310.8 L292.3,310.8 L291.8,314.8 L289.8,314.8 Z" fill="#080808"/>
<path d="M295.1,252.6 L297.1,252.6 L297.6,256.6 L294.6,256.6 Z" fill="#080808"/>
<rect x="294.20000000000005" y="256.9" width="3.8" height="4.6" rx="0.5" fill="#f4f4f4" stroke="#2a2a2a" stroke-width="0.9"/>
<path d="M295.1,257.9 L297.1,260.5 M297.1,257.9 L295.1,260.5" stroke="#222" stroke-width="0.55"/>
<rect x="294.20000000000005" y="305.9" width="3.8" height="4.6" rx="0.5" fill="#f4f4f4" stroke="#2a2a2a" stroke-width="0.9"/>
<path d="M295.1,306.9 L297.1,309.5 M297.1,306.9 L295.1,309.5" stroke="#222" stroke-width="0.55"/>
<path d="M294.6,310.8 L297.6,310.8 L297.1,314.8 L295.1,314.8 Z" fill="#080808"/>
<path d="M302.2,252.6 L304.2,252.6 L304.7,256.6 L301.7,256.6 Z" fill="#080808"/>
<rect x="301.3" y="256.9" width="3.8" height="4.6" rx="0.5" fill="#f4f4f4" stroke="#2a2a2a" stroke-width="0.9"/>
<path d="M302.2,257.9 L304.2,260.5 M304.2,257.9 L302.2,260.5" stroke="#222" stroke-width="0.55"/>
<rect x="301.3" y="305.9" width="3.8" height="4.6" rx="0.5" fill="#f4f4f4" stroke="#2a2a2a" stroke-width="0.9"/>
<path d="M302.2,306.9 L304.2,309.5 M304.2,306.9 L302.2,309.5" stroke="#222" stroke-width="0.55"/>
<path d="M301.7,310.8 L304.7,310.8 L304.2,314.8 L302.2,314.8 Z" fill="#080808"/>
<path d="M318.95,311.5 L321.55,311.5 L321.15,316 L319.35,316 Z" fill="#050505"/>
<rect x="317.75" y="305.7" width="5" height="6.5" rx="2.3" fill="#0e3250"/>
<ellipse cx="320.25" cy="308.6" rx="1" ry="2" fill="#2a7aa8"/>
<path d="M328.2,311.5 L330.8,311.5 L330.4,316 L328.6,316 Z" fill="#050505"/>
<rect x="327.0" y="305.7" width="5" height="6.5" rx="2.3" fill="#0e3250"/>
<ellipse cx="329.5" cy="308.6" rx="1" ry="2" fill="#2a7aa8"/>
<path d="M309.8,258 L312.2,258 L311,261 Z" fill="#915291"/>
<path d="M333.5,221 L344.3,221 L344.3,233.8 L333.5,233.8 Z" fill="#0a0a0a"/>
<circle cx="339" cy="221.5" r="7.4" fill="#0a0a0a"/>
<rect x="333.6" y="215.6" width="10.8" height="6.2" rx="2.2" fill="#555"/>
<rect x="335.2" y="216.6" width="7.6" height="2.6" rx="0.6" fill="#8a8a8a"/>
<circle cx="335.3" cy="224.2" r="1.4" fill="#777"/>
<circle cx="339" cy="210.6" r="0.8" fill="#222"/>
<path d="M26.5,245.6 L31.5,245 L31.5,248 L26.5,247.4 Z" fill="#0a0a0a"/>
<rect x="31" y="244.2" width="5.6" height="4.4" rx="1.2" fill="#0d2233"/>
<path d="M32.5,246.4 L35.5,246.4" stroke="#3a7aa0" stroke-width="0.9"/>
<path d="M586.4,245.8 L581.5,245.2 L581.5,248.2 L586.4,247.6 Z" fill="#0a0a0a"/>
<rect x="576.4" y="244.4" width="5.6" height="4.4" rx="1.2" fill="#0d2233"/>
<path d="M577.5,246.6 L580.5,246.6" stroke="#3a7aa0" stroke-width="0.9"/>
<path d="M269.8,378.3 L271.8,378.3 L272.3,382.4 L269.3,382.4 Z" fill="#080808"/>
<rect x="268.5" y="382.6" width="4.6" height="5.2" rx="0.6" fill="#f4f4f4" stroke="#2a2a2a" stroke-width="0.9"/>
<path d="M269.7,383.8 L271.90000000000003,386.6 M271.90000000000003,383.8 L269.7,386.6" stroke="#222" stroke-width="0.55"/>
<path d="M343.0,378.3 L345.0,378.3 L345.5,382.4 L342.5,382.4 Z" fill="#080808"/>
<rect x="341.7" y="382.6" width="4.6" height="5.2" rx="0.6" fill="#f4f4f4" stroke="#2a2a2a" stroke-width="0.9"/>
<path d="M342.9,383.8 L345.1,386.6 M345.1,383.8 L342.9,386.6" stroke="#222" stroke-width="0.55"/>
<text x="221.5" y="197.60" font-family="Liberation Sans" font-size="4.95" fill="#a8493d" stroke="#a8493d" stroke-width="0.1" text-anchor="end">SL4 OUTPUTS</text>
<text x="221.5" y="203.55" font-family="Liberation Sans" font-size="4.95" fill="#a8493d" stroke="#a8493d" stroke-width="0.1" text-anchor="end">1, 2, 3, 4 &amp; AUX</text>
<text x="221.5" y="209.50" font-family="Liberation Sans" font-size="4.95" fill="#a8493d" stroke="#a8493d" stroke-width="0.1" text-anchor="end">TO MIXER LINE-</text>
<text x="221.5" y="215.45" font-family="Liberation Sans" font-size="4.95" fill="#a8493d" stroke="#a8493d" stroke-width="0.1" text-anchor="end">LEVEL INPUTS</text>
<text x="354.4" y="209.40" font-family="Liberation Sans" font-size="4.85" fill="#a8493d" stroke="#a8493d" stroke-width="0.1" text-anchor="start">MIXER RECORD OUTPUT</text>
<text x="354.4" y="215.20" font-family="Liberation Sans" font-size="4.85" fill="#a8493d" stroke="#a8493d" stroke-width="0.1" text-anchor="start">TO SL4 AUX INPUT</text>
<text x="420.3" y="172.40" font-family="Liberation Sans" font-size="4.95" fill="#1a1a1a" stroke="#1a1a1a" stroke-width="0.15" text-anchor="middle">USE THE SL4</text>
<text x="420.3" y="178.30" font-family="Liberation Sans" font-size="4.95" fill="#1a1a1a" stroke="#1a1a1a" stroke-width="0.15" text-anchor="middle">POWER SUPPLY</text>
<text x="420.3" y="184.20" font-family="Liberation Sans" font-size="4.95" fill="#1a1a1a" stroke="#1a1a1a" stroke-width="0.15" text-anchor="middle">TO KEEP AUDIO</text>
<text x="420.3" y="190.10" font-family="Liberation Sans" font-size="4.95" fill="#1a1a1a" stroke="#1a1a1a" stroke-width="0.15" text-anchor="middle">IF USB IS</text>
<text x="420.3" y="196.00" font-family="Liberation Sans" font-size="4.95" fill="#1a1a1a" stroke="#1a1a1a" stroke-width="0.15" text-anchor="middle">UNPLUGGED.</text>
<circle cx="404.4" cy="167.6" r="0.85" fill="#111"/>
<text x="308.8" y="232.50" font-family="Liberation Sans" font-size="4.95" fill="#915291" stroke="#915291" stroke-width="0.1" text-anchor="start">SAMPLE</text>
<text x="308.8" y="238.50" font-family="Liberation Sans" font-size="4.95" fill="#915291" stroke="#915291" stroke-width="0.1" text-anchor="start">RATE</text>
<text x="308.8" y="244.50" font-family="Liberation Sans" font-size="4.95" fill="#915291" stroke="#915291" stroke-width="0.1" text-anchor="start">SWITCH</text>
<text x="308.8" y="250.50" font-family="Liberation Sans" font-size="4.95" fill="#915291" stroke="#915291" stroke-width="0.1" text-anchor="start">DEFAULT</text>
<text x="308.8" y="256.50" font-family="Liberation Sans" font-size="4.95" fill="#915291" stroke="#915291" stroke-width="0.1" text-anchor="start">@ 48 kHz</text>
<text x="306" y="367.00" font-family="Liberation Sans" font-size="4.95" fill="#a8493d" stroke="#a8493d" stroke-width="0.1" text-anchor="middle">INPUTS FOR FOUR</text>
<text x="306" y="372.95" font-family="Liberation Sans" font-size="4.95" fill="#a8493d" stroke="#a8493d" stroke-width="0.1" text-anchor="middle">TURNTABLES OR CD</text>
<text x="306" y="378.90" font-family="Liberation Sans" font-size="4.95" fill="#a8493d" stroke="#a8493d" stroke-width="0.1" text-anchor="middle">DECKS ARE INDIVIDUALLY</text>
<text x="306" y="384.85" font-family="Liberation Sans" font-size="4.95" fill="#a8493d" stroke="#a8493d" stroke-width="0.1" text-anchor="middle">SWITCHABLE ON THE SL4.</text>
<text x="306" y="390.80" font-family="Liberation Sans" font-size="4.95" fill="#a8493d" stroke="#a8493d" stroke-width="0.1" text-anchor="middle">UP = PHONO</text>
<text x="306" y="396.75" font-family="Liberation Sans" font-size="4.95" fill="#a8493d" stroke="#a8493d" stroke-width="0.1" text-anchor="middle">DOWN = CD.</text>
<text x="29.4" y="240.8" font-family="Liberation Sans" font-size="5.7" fill="#3f7f98" stroke="#3f7f98" stroke-width="0.12" text-anchor="middle">USB</text>
<g transform="translate(583.5,241.3) scale(0.1)"><text x="0" y="0" font-family="Liberation Sans" font-size="57" fill="#3f7f98" stroke="#3f7f98" stroke-width="1.2" text-anchor="middle">USB</text></g>
</svg></body></html>
